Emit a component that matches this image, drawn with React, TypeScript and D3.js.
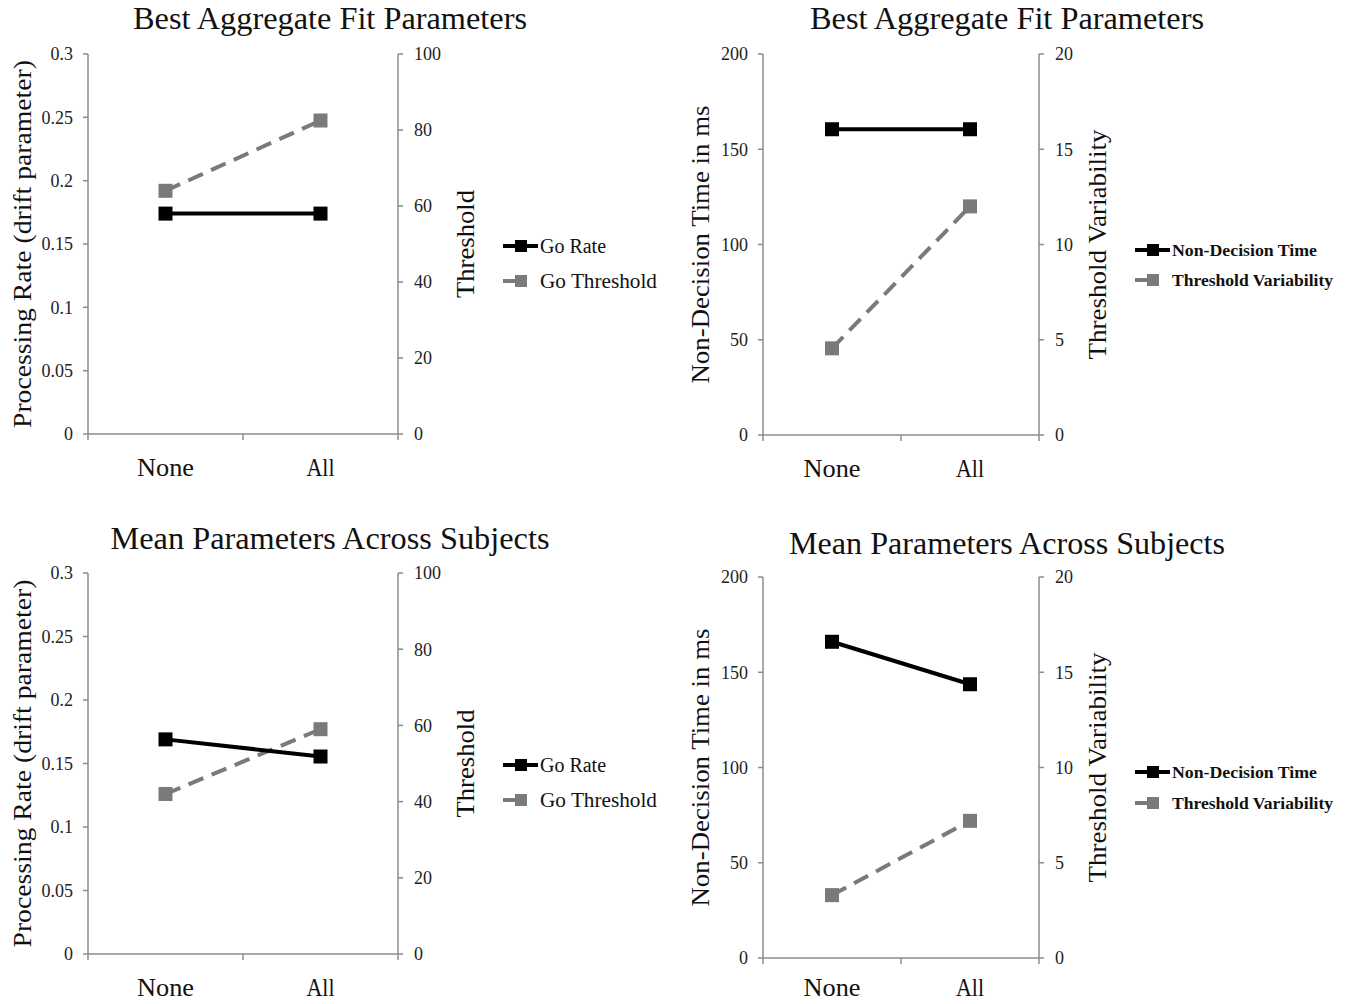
import React from "react";
import * as d3 from "d3";

const categories = ["None", "All"];
const bestGoRate = [0.174, 0.174];
const bestGoThreshold = [64, 82.5];
const meanGoRate = [0.169, 0.1555];
const meanGoThreshold = [42, 59];
const bestNonDecisionTime = [160.5, 160.5];
const bestThresholdVariability = [4.55, 12.0];
const meanNonDecisionTime = [166, 143.7];
const meanThresholdVariability = [3.3, 7.2];
const rateTicks = [0, 0.05, 0.1, 0.15, 0.2, 0.25, 0.3];
const thresholdTicks = [0, 20, 40, 60, 80, 100];
const timeTicks = [0, 50, 100, 150, 200];
const variabilityTicks = [0, 5, 10, 15, 20];
const titles = ["Best Aggregate Fit Parameters", "Mean Parameters Across Subjects"];
const leftLabels = ["Processing Rate (drift parameter)", "Non-Decision Time  in ms"];
const rightLabels = ["Threshold", "Threshold Variability"];
const legendNames = [["Go Rate", "Go Threshold"], ["Non-Decision Time", "Threshold Variability"]];

const FONT = "'Liberation Serif', 'Times New Roman', serif";
const AXIS = "#8c8c8c";
const BLACK = "#000";
const GRAY = "#7a7a7a";

type PanelProps = {
  x0: number; x1: number; top: number; bottom: number; catOffset: number;
  leftTicks: number[]; rightTicks: number[];
  leftValues: number[]; rightValues: number[];
  title: string; titleX: number; titleY: number; titleLen: number;
  leftLabel: string; leftLabelX: number; leftLabelLen: number; leftLabelSize: number;
  rightLabel: string; rightLabelX: number; rightLabelLen: number; rightLabelSize: number;
  legend: string[]; legX: number; legTextX: number; legY1: number; legY2: number;
  legSize: number; legWeight: number; legLens: number[];
};

const catLens: Record<string, number> = { None: 57, All: 28 };

function Panel(p: PanelProps) {
  const x = d3.scaleBand<string>().domain(categories).range([p.x0, p.x1]);
  const yL = d3.scaleLinear().domain([0, d3.max(p.leftTicks) as number]).range([p.bottom, p.top]);
  const yR = d3.scaleLinear().domain([0, d3.max(p.rightTicks) as number]).range([p.bottom, p.top]);
  const cx = (c: string) => (x(c) as number) + x.bandwidth() / 2;
  const lineL = d3.line<number>().x((_, i) => cx(categories[i])).y((d) => yL(d));
  const lineR = d3.line<number>().x((_, i) => cx(categories[i])).y((d) => yR(d));
  const sq = 14;
  const midY = (p.top + p.bottom) / 2;
  const xTicks = [p.x0, ...categories.slice(1).map((c) => x(c) as number), p.x1];
  return (
    <g fontFamily={FONT}>
      <text x={p.titleX} y={p.titleY} fontSize={31} textAnchor="middle" textLength={p.titleLen} lengthAdjust="spacingAndGlyphs" fill="#111">
        {p.title}
      </text>
      <line x1={p.x0} x2={p.x0} y1={p.top} y2={p.bottom} stroke={AXIS} strokeWidth={1.5} />
      {p.leftTicks.map((t) => (
        <g key={"l" + t}>
          <line x1={p.x0 - 5} x2={p.x0} y1={yL(t)} y2={yL(t)} stroke={AXIS} strokeWidth={1.5} />
          <text x={p.x0 - 15} y={yL(t)} dy="0.35em" fontSize={18} textAnchor="end" fill="#222">{String(t)}</text>
        </g>
      ))}
      <line x1={p.x1} x2={p.x1} y1={p.top} y2={p.bottom} stroke={AXIS} strokeWidth={1.5} />
      {p.rightTicks.map((t) => (
        <g key={"r" + t}>
          <line x1={p.x1} x2={p.x1 + 5} y1={yR(t)} y2={yR(t)} stroke={AXIS} strokeWidth={1.5} />
          <text x={p.x1 + 16} y={yR(t)} dy="0.35em" fontSize={18} textAnchor="start" fill="#222">{String(t)}</text>
        </g>
      ))}
      <line x1={p.x0} x2={p.x1} y1={p.bottom} y2={p.bottom} stroke={AXIS} strokeWidth={1.5} />
      {xTicks.map((t, i) => (
        <line key={"x" + i} x1={t} x2={t} y1={p.bottom} y2={p.bottom + 6} stroke={AXIS} strokeWidth={1.5} />
      ))}
      {categories.map((c) => (
        <text key={c} x={cx(c)} y={p.bottom + p.catOffset} fontSize={26} textAnchor="middle" textLength={catLens[c]} lengthAdjust="spacingAndGlyphs" fill="#111">{c}</text>
      ))}
      <text transform={`translate(${p.leftLabelX},${midY}) rotate(-90)`} dominantBaseline="central" fontSize={p.leftLabelSize} textAnchor="middle" textLength={p.leftLabelLen} lengthAdjust="spacingAndGlyphs" fill="#111">
        {p.leftLabel}
      </text>
      <text transform={`translate(${p.rightLabelX},${midY}) rotate(-90)`} dominantBaseline="central" fontSize={p.rightLabelSize} textAnchor="middle" textLength={p.rightLabelLen} lengthAdjust="spacingAndGlyphs" fill="#111">
        {p.rightLabel}
      </text>
      <path d={lineR(p.rightValues) as string} fill="none" stroke={GRAY} strokeWidth={4} strokeDasharray="16,9" />
      {p.rightValues.map((v, i) => (
        <rect key={"rv" + i} x={cx(categories[i]) - sq / 2} y={yR(v) - sq / 2} width={sq} height={sq} fill={GRAY} />
      ))}
      <path d={lineL(p.leftValues) as string} fill="none" stroke={BLACK} strokeWidth={4} />
      {p.leftValues.map((v, i) => (
        <rect key={"lv" + i} x={cx(categories[i]) - sq / 2} y={yL(v) - sq / 2} width={sq} height={sq} fill={BLACK} />
      ))}
      <line x1={p.legX} x2={p.legX + 35} y1={p.legY1} y2={p.legY1} stroke={BLACK} strokeWidth={4} />
      <rect x={p.legX + 12} y={p.legY1 - 6} width={12} height={12} fill={BLACK} />
      <text x={p.legTextX} y={p.legY1} dy="0.35em" fontSize={p.legSize} fontWeight={p.legWeight} textLength={p.legLens[0]} lengthAdjust="spacingAndGlyphs" fill="#111">{p.legend[0]}</text>
      <line x1={p.legX} x2={p.legX + 14} y1={p.legY2} y2={p.legY2} stroke={GRAY} strokeWidth={4} />
      <rect x={p.legX + 12} y={p.legY2 - 6} width={12} height={12} fill={GRAY} />
      <text x={p.legTextX} y={p.legY2} dy="0.35em" fontSize={p.legSize} fontWeight={p.legWeight} textLength={p.legLens[1]} lengthAdjust="spacingAndGlyphs" fill="#111">{p.legend[1]}</text>
    </g>
  );
}

export default function App() {
  const rateBase = {
    x0: 88, x1: 398,
    leftTicks: rateTicks, rightTicks: thresholdTicks,
    titleX: 330,
    leftLabel: leftLabels[0], leftLabelX: 22, leftLabelLen: 368, leftLabelSize: 26,
    rightLabel: rightLabels[0], rightLabelX: 465, rightLabelLen: 108, rightLabelSize: 26,
    legend: legendNames[0], legX: 503, legTextX: 540, legSize: 20, legWeight: 400, legLens: [66, 117],
  };
  const timeBase = {
    x0: 763, x1: 1039,
    leftTicks: timeTicks, rightTicks: variabilityTicks,
    titleX: 1007,
    leftLabel: leftLabels[1], leftLabelX: 700, leftLabelLen: 278, leftLabelSize: 26,
    rightLabel: rightLabels[1], rightLabelX: 1097, rightLabelLen: 230, rightLabelSize: 26,
    legend: legendNames[1], legX: 1135, legTextX: 1172, legSize: 17, legWeight: 700, legLens: [145, 161],
  };
  return (
    <svg width={1347} height={1004} style={{ position: "absolute", left: 0, top: 0, background: "#fff" }}>
      <rect width={1347} height={1004} fill="#fff" />
      <Panel {...rateBase} top={54} bottom={434} catOffset={42} leftValues={bestGoRate} rightValues={bestGoThreshold}
        title={titles[0]} titleY={29} titleLen={394} legY1={246} legY2={281} />
      <Panel {...timeBase} top={54} bottom={435} catOffset={42} leftValues={bestNonDecisionTime} rightValues={bestThresholdVariability}
        title={titles[0]} titleY={29} titleLen={394} legY1={250} legY2={280} />
      <Panel {...rateBase} top={573} bottom={954} catOffset={42} leftValues={meanGoRate} rightValues={meanGoThreshold}
        title={titles[1]} titleY={549} titleLen={439} legY1={765} legY2={800} />
      <Panel {...timeBase} top={577} bottom={958} catOffset={38} leftValues={meanNonDecisionTime} rightValues={meanThresholdVariability}
        title={titles[1]} titleY={554} titleLen={436} legY1={772} legY2={803} />
    </svg>
  );
}
